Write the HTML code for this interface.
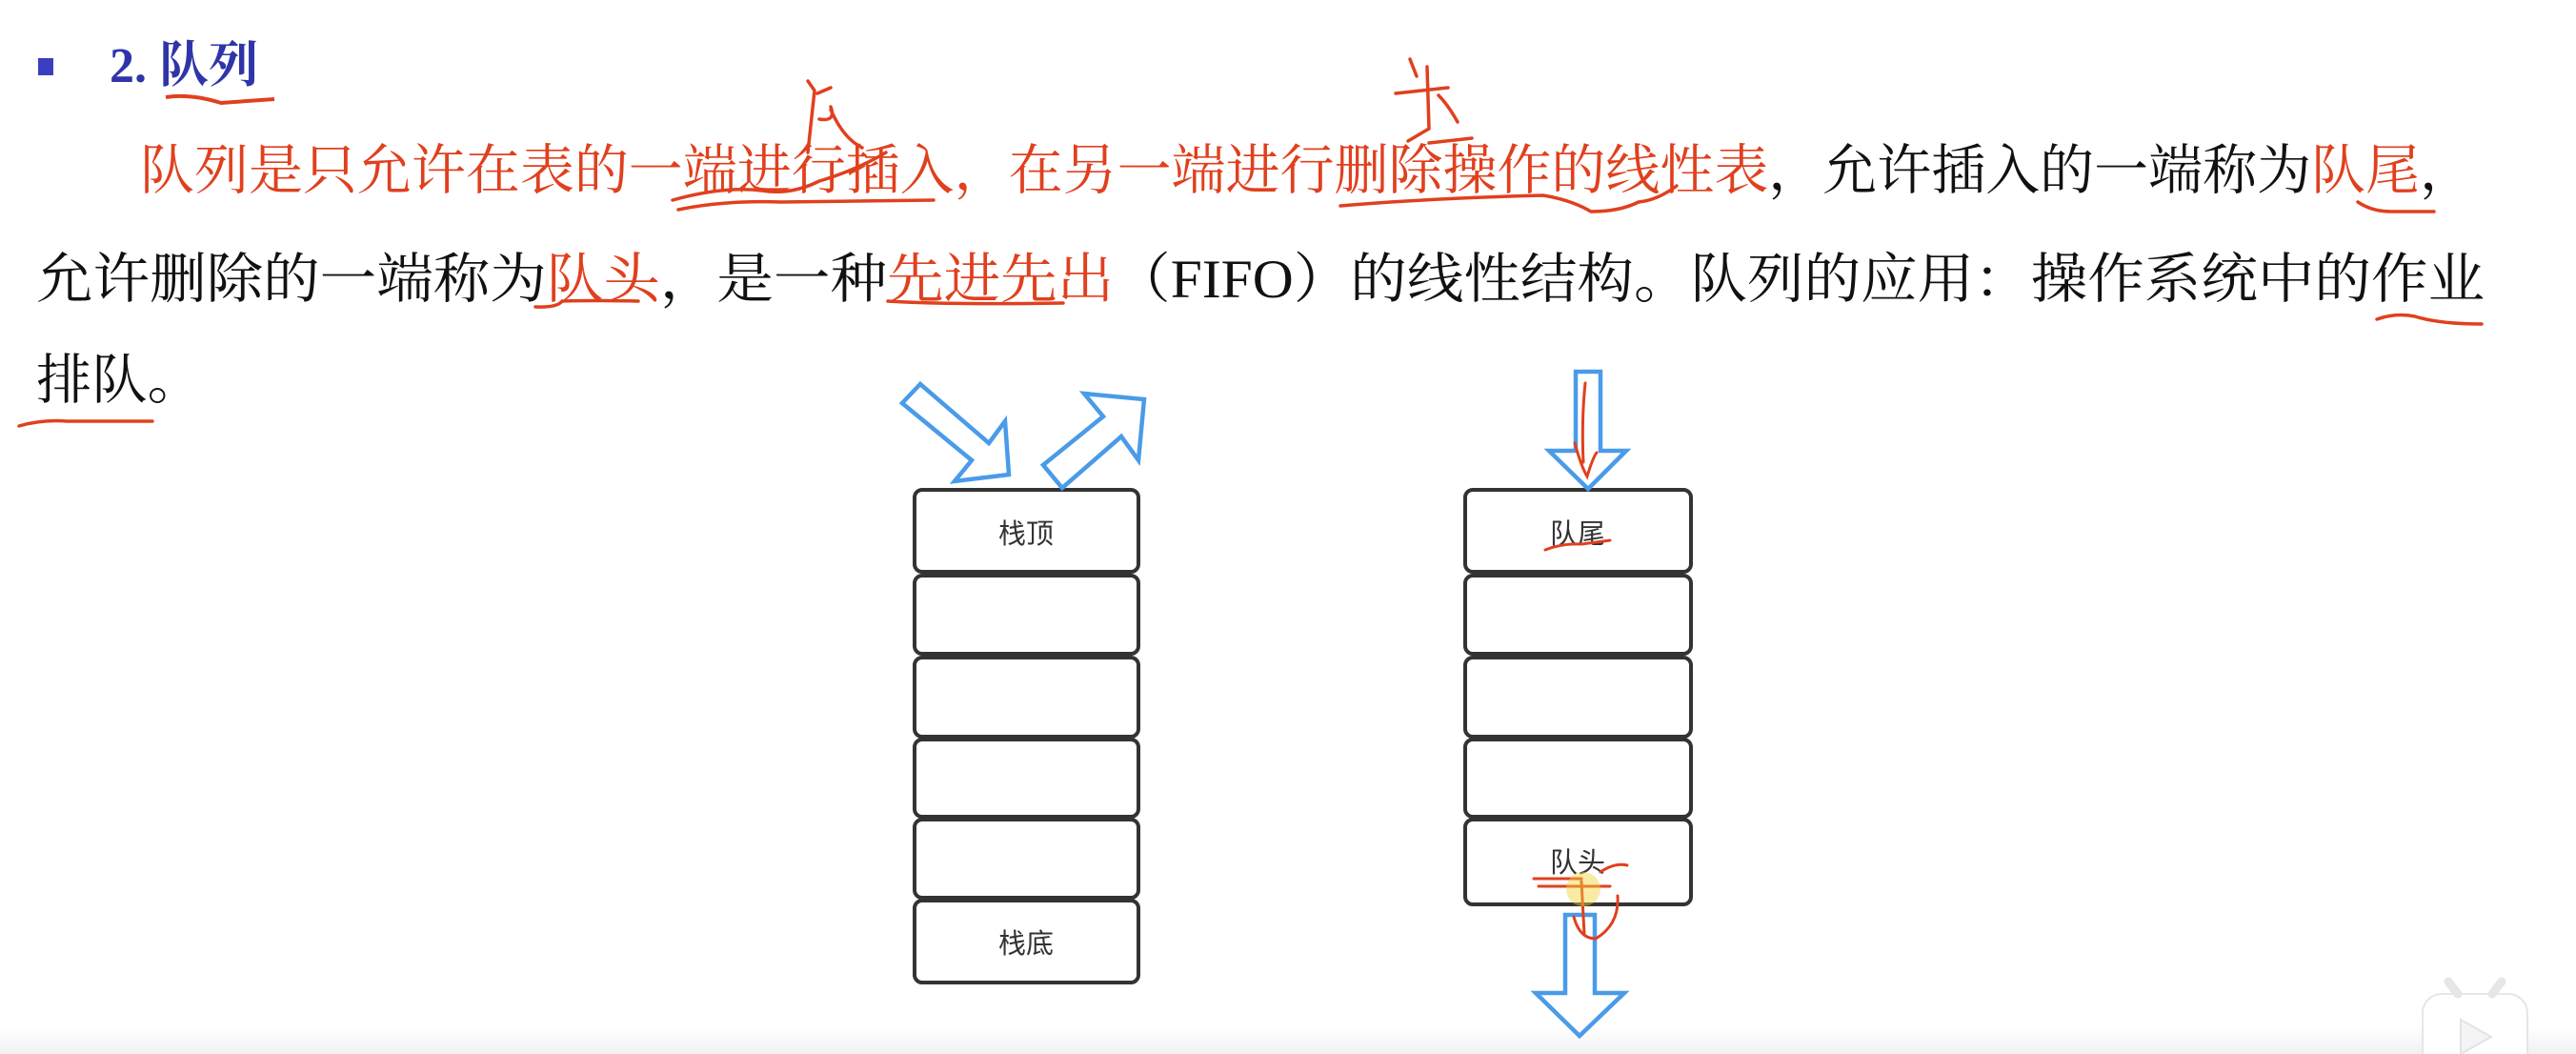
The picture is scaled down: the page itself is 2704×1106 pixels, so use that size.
<!DOCTYPE html>
<html><head><meta charset="utf-8"><style>
html,body{margin:0;padding:0;background:#fff;}
svg{display:block}
</style></head><body>
<svg width="2704" height="1106" viewBox="0 0 2704 1106" xmlns="http://www.w3.org/2000/svg">
<defs><linearGradient id="g" x1="0" y1="0" x2="0" y2="1"><stop offset="0" stop-color="#fff"/><stop offset="1" stop-color="#f1f1f1"/></linearGradient></defs>
<rect width="2704" height="1106" fill="#fff"/>
<rect x="0" y="1078" width="2704" height="28" fill="url(#g)"/>
<!-- title -->
<rect x="40" y="61" width="16" height="18" fill="#3a3fc0"/>
<text x="115" y="86" font-family="Liberation Serif, 'Noto Serif CJK SC', serif" font-weight="bold" font-size="52" fill="#2f35a8">2. <tspan font-family="'Noto Serif CJK SC', serif" font-weight="bold">队列</tspan></text>
<path d="M174,102 Q200,98 232,108 L288,104" stroke="#e0401e" stroke-width="4" fill="none"/>
<!-- paragraph -->
<g font-family="'Liberation Serif','Noto Serif CJK SC',serif" font-size="57">
<text x="147" y="198" textLength="2450" lengthAdjust="spacingAndGlyphs"><tspan fill="#e0401e">队列是只允许在表的一端进行插入，在另一端进行删除操作的线性表</tspan><tspan fill="#111">，允许插入的一端称为</tspan><tspan fill="#e0401e">队尾</tspan><tspan fill="#111">，</tspan></text>
<text x="38" y="312" textLength="2570" lengthAdjust="spacingAndGlyphs"><tspan fill="#111">允许删除的一端称为</tspan><tspan fill="#e0401e">队头</tspan><tspan fill="#111">，是一种</tspan><tspan fill="#e0401e">先进先出</tspan><tspan fill="#111">（FIFO）的线性结构。队列的应用：操作系统中的作业</tspan></text>
<text x="38" y="418" fill="#111" textLength="175" lengthAdjust="spacingAndGlyphs">排队。</text>
</g>
<!-- pen annotations -->
<g stroke="#e0401e" stroke-width="3.5" fill="none" stroke-linecap="round">
<path d="M706,210 Q760,195 800,200 Q830,205 860,190 Q900,178 930,160"/>
<path d="M712,220 Q760,210 820,212 L980,210"/>
<path d="M848,160 L855,95 L848,85 M858,98 L872,92 M860,125 Q878,128 872,112 M872,115 Q885,145 905,155"/>
<path d="M1407,216 Q1500,208 1620,205 Q1650,210 1670,222 Q1700,222 1720,212 Q1740,210 1760,195"/>
<path d="M1480,62 L1487,80 M1465,98 L1520,92 M1498,70 L1500,135 L1478,148 M1510,100 Q1520,110 1530,128 M1500,150 L1545,145"/>
<path d="M2475,212 Q2490,222 2510,222 L2555,222"/>
<path d="M562,322 Q585,323 590,316 Q620,315 670,316"/>
<path d="M932,316 Q1000,320 1116,318"/>
<path d="M2495,335 Q2515,328 2535,332 Q2560,340 2605,340"/>
<path d="M20,447 Q45,440 70,442 L160,442"/>
</g>
<!-- stack -->
<g stroke="#333" stroke-width="4" fill="#fff">
<rect x="960" y="514" width="235" height="86" rx="8"/>
<rect x="960" y="604" width="235" height="82" rx="8"/>
<rect x="960" y="690" width="235" height="83" rx="8"/>
<rect x="960" y="776" width="235" height="81" rx="8"/>
<rect x="960" y="860" width="235" height="82" rx="8"/>
<rect x="960" y="945" width="235" height="86" rx="8"/>
<rect x="1538" y="514" width="237" height="86" rx="8"/>
<rect x="1538" y="604" width="237" height="82" rx="8"/>
<rect x="1538" y="690" width="237" height="83" rx="8"/>
<rect x="1538" y="776" width="237" height="81" rx="8"/>
<rect x="1538" y="860" width="237" height="89" rx="8"/>
</g>
<g font-family="'Liberation Sans','Noto Sans CJK SC',sans-serif" font-size="29" fill="#333" text-anchor="middle">
<text x="1077" y="570">栈顶</text>
<text x="1077" y="1000">栈底</text>
<text x="1656" y="570">队尾</text>
<text x="1656" y="915">队头</text>
</g>
<!-- arrows -->
<g stroke="#4a9be8" stroke-width="4.5" fill="#fff" stroke-linejoin="miter">
<polygon points="966,403 947,423 1020,483 1002,505 1059,498 1055,442 1038,465"/>
<polygon points="1115,512 1095,488 1158,437 1138,413 1201,419 1195,483 1177,458"/>
<polygon points="1654,390 1680,390 1680,473 1707,473 1667,513 1626,473 1654,473"/>
<polygon points="1643,960 1674,960 1674,1042 1705,1042 1658,1087 1612,1042 1643,1042"/>
</g>
<g stroke="#e0401e" stroke-width="3" fill="none" stroke-linecap="round">
<path d="M1664,402 Q1660,440 1662,485 M1653,465 Q1660,490 1666,500 Q1672,480 1676,475"/>
<path d="M1622,577 Q1640,570 1660,571 L1690,567"/>
<path d="M1610,922 L1660,922 M1615,930 L1690,930 M1660,925 L1663,980 M1680,915 Q1695,905 1708,908 M1698,940 Q1700,970 1675,985 Q1658,985 1652,962"/>
</g>
<circle cx="1662" cy="933" r="18" fill="#f0d23a" opacity="0.45"/>
<!-- bilibili icon -->
<g fill="#fff" stroke="#e6e6e6" stroke-width="2">
<rect x="2543" y="1043" width="110" height="80" rx="20"/>
<path d="M2580,1043 L2570,1030 M2616,1043 L2626,1030" stroke-width="9" stroke-linecap="round"/>
</g>
<path d="M2583,1070 L2615,1088 L2583,1106 Z" fill="#f4f4f4" stroke="#e3e3e3" stroke-width="2"/>
</svg>
</body></html>
